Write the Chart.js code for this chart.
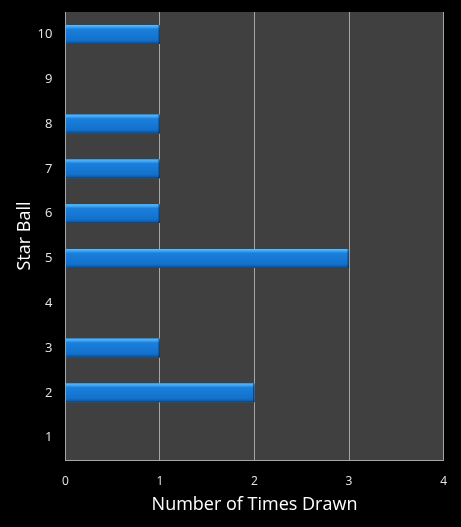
<!DOCTYPE html>
<html>
<head>
<meta charset="utf-8">
<script src="https://cdn.jsdelivr.net/npm/chart.js@4/dist/chart.umd.min.js"></script>
<style>
  html, body { margin: 0; padding: 0; background: #000; }
  #wrap { width: 461px; height: 527px; }
</style>
</head>
<body>
<div id="wrap"><canvas id="starChart"></canvas></div>
<script>
// Star ball draw counts
const starBalls = ['10', '9', '8', '7', '6', '5', '4', '3', '2', '1'];
const timesDrawn = [1, 0, 1, 1, 1, 3, 0, 1, 2, 0];
const xTicks = [0, 1, 2, 3, 4];

const plotBg = {
    id: 'plotBg',
    beforeDraw(chart) {
        const { ctx, chartArea: a } = chart;
        ctx.save();
        ctx.fillStyle = '#404040';
        ctx.fillRect(a.left, a.top, a.right - a.left, a.bottom - a.top);
        ctx.restore();
    }
};

// glossy shading over each bar, using the bar element's own geometry
const barGloss = {
    id: 'barGloss',
    afterDatasetsDraw(chart) {
        const ctx = chart.ctx;
        chart.getDatasetMeta(0).data.forEach(el => {
            const left = Math.min(el.base, el.x), w = Math.abs(el.x - el.base);
            if (w < 1) return;
            const top = el.y - el.height / 2, h = el.height;
            const g = ctx.createLinearGradient(0, top, 0, top + h);
            g.addColorStop(0, '#62bcf7');
            g.addColorStop(0.12, '#3aa1ee');
            g.addColorStop(0.22, '#1a80dc');
            g.addColorStop(0.8, '#1271cc');
            g.addColorStop(0.92, '#0d5eb0');
            g.addColorStop(1, '#093f78');
            ctx.save();
            ctx.fillStyle = g;
            ctx.fillRect(left, top, w, h);
            ctx.fillStyle = 'rgba(5,40,80,0.6)';
            ctx.fillRect(left + w - 1.5, top, 1.5, h);
            ctx.restore();
        });
    }
};

new Chart(document.getElementById('starChart'), {
    type: 'bar',
    data: {
        labels: starBalls,
        datasets: [{
            data: timesDrawn,
            backgroundColor: '#1479d6',
            borderWidth: 0,
            barPercentage: 0.42,
            categoryPercentage: 1
        }]
    },
    options: {
        indexAxis: 'y',
        responsive: true, maintainAspectRatio: false,
        animation: false,
        layout: { padding: { top: 12, right: 16, left: 4, bottom: 11 } },
        plugins: { legend: { display: false }, tooltip: { enabled: false } },
        scales: {
            x: {
                min: 0, max: 4,
                afterBuildTicks: axis => { axis.ticks = xTicks.map(v => ({ value: v })); },
                grid: { color: '#a6a6a6', lineWidth: 1, drawTicks: false },
                border: { color: '#a6a6a6' },
                ticks: { color: '#e6e6e6', font: { family: "'Open Sans', sans-serif", size: 12 }, padding: 14 },
                title: { display: true, text: 'Number of Times Drawn', color: '#ffffff',
                         font: { family: "'Open Sans', sans-serif", size: 18 }, padding: { top: -8, bottom: 0 } }
            },
            y: {
                // hidden tick marks keep the label gap without padding the top of the plot
                grid: { display: false, drawTicks: true, tickLength: 9 },
                border: { color: '#a6a6a6' },
                ticks: { color: '#e6e6e6', font: { family: "'Open Sans', sans-serif", size: 13 }, padding: 4 },
                title: { display: true, text: 'Star Ball', color: '#ffffff',
                         font: { family: "'Open Sans', sans-serif", size: 18 }, padding: { top: 10, bottom: -2 } }
            }
        }
    },
    plugins: [plotBg, barGloss]
});
</script>
</body>
</html>
